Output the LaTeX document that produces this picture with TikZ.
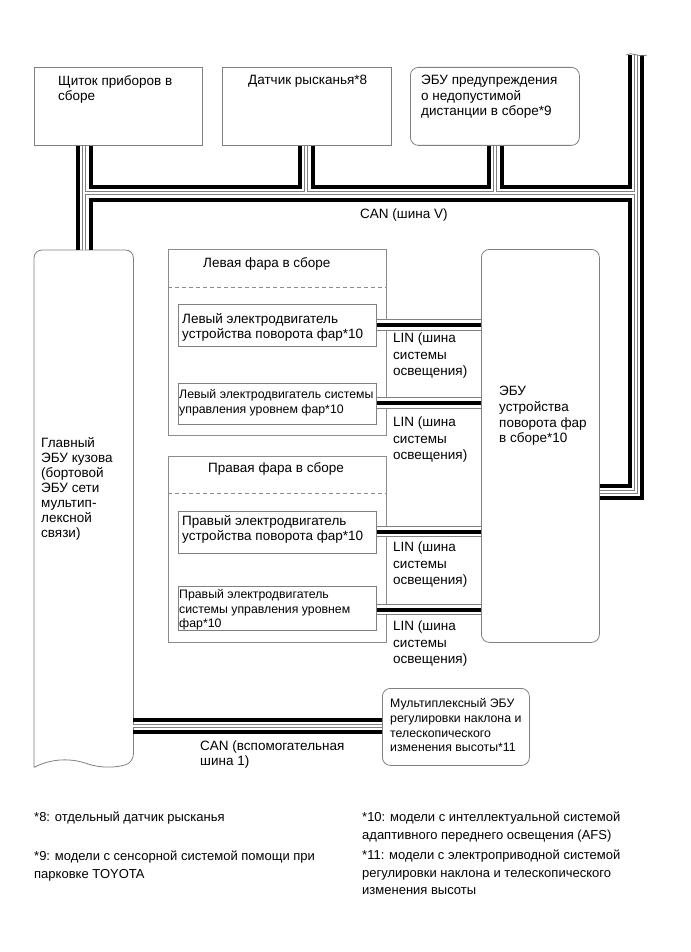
\documentclass[tikz,border=0pt]{standalone}
\usepackage{fontspec}
\setmainfont{Liberation Sans}
\definecolor{boxgray}{gray}{0.5}
\definecolor{grpgray}{gray}{0.55}
\begin{document}
\begin{tikzpicture}[x=1pt,y=-1pt,
  box/.style={draw=boxgray, line width=0.8pt, inner sep=0pt, anchor=north west},
  rbox/.style={box, rounded corners=8pt},
  grp/.style={draw=grpgray, line width=0.7pt, inner sep=0pt, anchor=north west},
  txt/.style={anchor=north west, inner sep=0pt, align=left, font=\fontsize{13.5}{15.5}\selectfont},
  stxt/.style={anchor=north west, inner sep=0pt, align=left, font=\fontsize{12.3}{14.2}\selectfont},
  lintxt/.style={anchor=north west, inner sep=0pt, align=left, font=\fontsize{13.5}{16.5}\selectfont},
  ftxt/.style={anchor=north west, inner sep=0pt, align=left, font=\fontsize{13}{17.5}\selectfont},
  chan/.style={draw=gray, line width=4pt},
  chanw/.style={draw=white, line width=2pt},
  wire/.style={draw=black, line width=4pt, line join=miter},
  linA/.style={draw=gray, line width=11.5pt},
  linB/.style={draw=white, line width=9.5pt},
  linC/.style={draw=black, line width=4pt}]
\fill[white] (0,0) rectangle (690,952);
\useasboundingbox (0,0) rectangle (690,952);

% top boxes
\node[box, minimum width=168pt, minimum height=78pt] (b1) at (34,67) {};
\node[box, minimum width=169pt, minimum height=78pt] (b2) at (222,67) {};
\node[rbox, minimum width=169pt, minimum height=78pt] (b3) at (410,67) {};
\node[txt] (t1) at (58,75) {Щиток приборов в\\сборе};
\node[txt] (t2) at (248,75) {Датчик рысканья*8};
\node[txt] (t3) at (421,75) {ЭБУ предупреждения\\о недопустимой\\дистанции в сборе*9};

% body ECU
\node[inner sep=0pt, minimum width=99pt, minimum height=517pt, anchor=north west] (body) at (34,250) {};
\draw[draw=boxgray, line width=0.8pt] (body.south west) [rounded corners=8pt] -- (body.north west) -- (body.north east) -- ([yshift=5pt]body.south east) [sharp corners]
  .. controls (115,768) and (100,768) .. (88,764) .. controls (72,758) and (52,758) .. (body.south west);
\node[txt, font=\fontsize{13.5}{15}\selectfont] (tbody) at (41,437) {Главный\\ЭБУ кузова\\(бортовой\\ЭБУ сети\\мультип-\\лексной\\связи)};

% headlamp groups
\node[grp, minimum width=218pt, minimum height=186pt] (lg) at (168,249) {};
\node[grp, minimum width=218pt, minimum height=186pt] (rg) at (168,456) {};
\draw[grpgray, line width=0.7pt, dash pattern=on 4pt off 3pt] (lg.west |- 0,287) -- (lg.east |- 0,287);
\draw[grpgray, line width=0.7pt, dash pattern=on 4pt off 3pt] (rg.west |- 0,493) -- (rg.east |- 0,493);
\node[txt] (tlg) at (203,257) {Левая фара в сборе};
\node[txt] (trg) at (208,462) {Правая фара в сборе};

\node[box, minimum width=198pt, minimum height=42pt] (L1) at (178,304) {};
\node[box, minimum width=198pt, minimum height=41pt] (L2) at (178,383) {};
\node[box, minimum width=198pt, minimum height=42pt] (R1) at (178,511) {};
\node[box, minimum width=198pt, minimum height=44pt] (R2) at (178,586) {};
\node[txt, font=\fontsize{13.5}{15}\selectfont] (tL1) at (182,313) {Левый электродвигатель\\устройства поворота фар*10};
\node[stxt] (tL2) at (179,389.5) {Левый электродвигатель системы\\управления уровнем фар*10};
\node[txt, font=\fontsize{13.5}{15}\selectfont] (tR1) at (182,515) {Правый электродвигатель\\устройства поворота фар*10};
\node[stxt] (tR2) at (179,589.5) {Правый электродвигатель\\системы управления уровнем\\фар*10};

% headlamp ECU
\node[rbox, minimum width=118pt, minimum height=393pt] (ecu) at (481,249) {};
\node[txt, font=\fontsize{13.5}{15.7}\selectfont] (tecu) at (499,386) {ЭБУ\\устройства\\поворота фар\\в сборе*10};

% multiplex tilt ECU
\node[rbox, minimum width=147pt, minimum height=77pt] (mul) at (382,688) {};
\node[stxt, font=\fontsize{12.3}{14.7}\selectfont] (tmul) at (390,698.5) {Мультиплексный ЭБУ\\регулировки наклона и\\телескопического\\изменения высоты*11};

% LIN cables
\foreach \a/\y in {L1/325, L2/403, R1/531.7, R2/609.7} {
  \draw[linA] (\a.east |- 0,\y) -- (ecu.west |- 0,\y);
  \draw[linB] (\a.east |- 0,\y) -- (ecu.west |- 0,\y);
  \draw[linC] (\a.east |- 0,\y) -- (ecu.west |- 0,\y);
}
\node[lintxt] (lin1) at (393,333) {LIN (шина\\системы\\освещения)};
\node[lintxt] (lin2) at (393,417) {LIN (шина\\системы\\освещения)};
\node[lintxt] (lin3) at (393,542) {LIN (шина\\системы\\освещения)};
\node[lintxt] (lin4) at (393,621) {LIN (шина\\системы\\освещения)};

% CAN V bus: centre channels
\foreach \s in {chan, chanw} {
  \draw[\s] (b1.south -| 84,0) -- (body.north -| 84,0);
  \draw[\s] (84,193) -- (636,193);
  \draw[\s] (b2.south -| 306,0) -- (306,193);
  \draw[\s] (b3.south -| 495,0) -- (495,193);
  \draw[\s] (636,55) -- (636,492) -- (ecu.east |- 0,492);
  \draw[\s] (body.east |- 0,726) -- (mul.west |- 0,726);
}
% wires
\draw[wire] (b1.south -| 90.5,0) -- (90.5,186.5) -- (299.5,186.5) -- (b2.south -| 299.5,0);
\draw[wire] (b2.south -| 312.5,0) -- (312.5,186.5) -- (488.5,186.5) -- (b3.south -| 488.5,0);
\draw[wire] (b3.south -| 501.5,0) -- (501.5,186.5) -- (630,186.5) -- (630,55);
\draw[wire] (b1.south -| 77.5,0) -- (body.north -| 77.5,0);
\draw[wire] (body.north -| 90.5,0) -- (90.5,199.5) -- (630,199.5) -- (630,486) -- (ecu.east |- 0,486);
\draw[wire] (642,55) -- (642,498) -- (ecu.east |- 0,498);
\draw[wire] (body.east |- 0,720) -- (mul.west |- 0,720);
\draw[wire] (body.east |- 0,732) -- (mul.west |- 0,732);
\draw[boxgray, line width=0.8pt] (626,55) .. controls (632,51) and (638,58) .. (647,55);

\node[txt] (canv) at (360,209) {CAN (шина V)};
\node[txt, font=\fontsize{13.5}{15}\selectfont] (canaux) at (200,741) {CAN (вспомогательная\\шина 1)};

% footnotes
\node[ftxt] (f8) at (34,812) {*8: отдельный датчик рысканья};
\node[ftxt] (f9) at (34,851) {*9: модели с сенсорной системой помощи при\\парковке TOYOTA};
\node[ftxt] (f10) at (362,812) {*10: модели с интеллектуальной системой\\адаптивного переднего освещения (AFS)};
\node[ftxt] (f11) at (362,850) {*11: модели с электроприводной системой\\регулировки наклона и телескопического\\изменения высоты};
\end{tikzpicture}
\end{document}
